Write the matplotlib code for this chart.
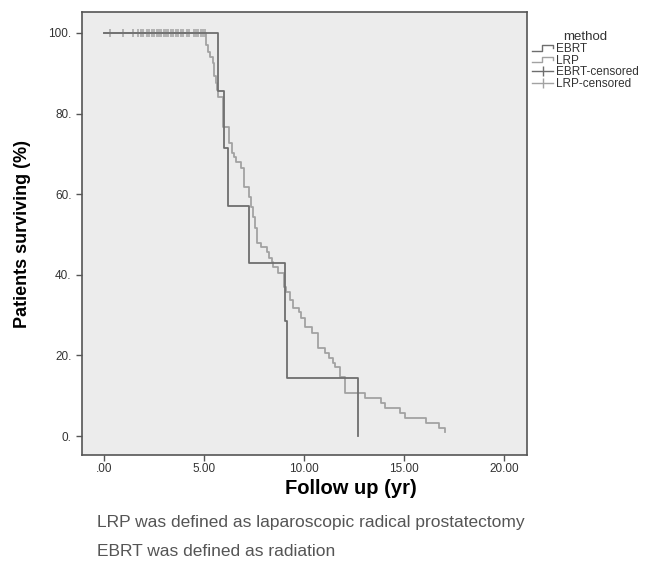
import matplotlib.pyplot as plt
from matplotlib.lines import Line2D
from matplotlib.legend_handler import HandlerBase

# EBRT arm: step times (yr) and survival (%)
ebrt_t = [0, 5.68, 6.00, 6.20, 7.27, 9.05, 9.13, 12.70]
ebrt_s = [100, 85.7, 71.4, 57.1, 42.9, 28.6, 14.3, 0]

# LRP arm: step times (yr) and survival (%)
lrp_t = [0, 5.10, 5.18, 5.30, 5.43, 5.50, 5.58, 5.63, 5.72, 5.95, 6.25,
         6.38, 6.50, 6.60, 6.85, 7.02, 7.25, 7.33, 7.47, 7.55, 7.63, 7.85,
         8.17, 8.27, 8.38, 8.47, 8.72, 9.00, 9.10, 9.30, 9.47, 9.77, 9.83,
         10.05, 10.38, 10.72, 11.05, 11.27, 11.43, 11.55, 11.80, 12.05,
         13.05, 13.83, 14.05, 14.80, 15.05, 16.10, 16.77, 17.05]
lrp_s = [100, 97.0, 95.4, 94.0, 92.6, 89.2, 87.5, 85.9, 84.0, 76.6, 72.8,
         70.3, 69.2, 67.9, 66.6, 61.7, 59.4, 56.9, 54.3, 51.5, 48.0, 46.8,
         45.7, 44.1, 43.3, 42.0, 40.4, 37.0, 35.8, 33.8, 31.7, 30.8, 29.4,
         27.0, 25.5, 21.8, 20.5, 19.3, 18.2, 17.2, 14.7, 10.6,
         9.4, 8.1, 6.9, 5.6, 4.4, 3.2, 1.9, 0.9]

# LRP censored observations (all at 100 %)
lrp_cens = [0.30, 0.97, 1.47, 1.72, 1.83, 1.97, 2.13, 2.27, 2.38, 2.50,
            2.63, 2.75, 2.85, 3.00, 3.10, 3.22, 3.33, 3.47, 3.60, 3.72,
            3.83, 3.97, 4.13, 4.25, 4.50, 4.60, 4.72, 4.83, 4.93, 5.05]

xticks = [0, 5, 10, 15, 20]
xlabels = ['.00', '5.00', '10.00', '15.00', '20.00']
yticks = [0, 20, 40, 60, 80, 100]
ylabels = ['0.', '20.', '40.', '60.', '80.', '100.']

c_ebrt = '#6e6e6e'
c_lrp = '#a2a2a2'

plt.rcParams['font.family'] = ['Liberation Sans', 'DejaVu Sans']

fig = plt.figure(figsize=(6.46, 5.62), dpi=100)
ax = fig.add_axes([82/646, 1-455/562, 445/646, 443/562])
ax.set_facecolor('#ececec')

ax.step(lrp_t, lrp_s, where='post', color=c_lrp, lw=1.3, zorder=2)
ax.plot(lrp_cens, [100]*len(lrp_cens), ls='none', marker='|', ms=5.5,
        mew=1.1, color=c_lrp, zorder=2)
ax.step(ebrt_t, ebrt_s, where='post', color=c_ebrt, lw=1.3, zorder=3)

ax.set_xlim(-1.1, 21.15)
ax.set_ylim(-4.7, 105.2)
ax.set_xticks(xticks)
ax.set_xticklabels(xlabels)
ax.set_yticks(yticks)
ax.set_yticklabels(ylabels)
ax.tick_params(direction='out', length=4, width=1, colors='#555555',
               labelcolor='#333333', labelsize=8.5)
ax.tick_params(axis='x', pad=2)
for sp in ax.spines.values():
    sp.set_color('#555555')
    sp.set_linewidth(1.2)

ax.set_xlabel('Follow up (yr)', fontsize=14.5, fontweight='bold', va='center')
ax.xaxis.set_label_coords((351-82)/445, (455-489)/443)
ax.set_ylabel('Patients surviving (%)', fontsize=13, fontweight='bold',
              va='center')
ax.yaxis.set_label_coords((23-82)/445, 0.5)


class StepHandler(HandlerBase):
    def create_artists(self, legend, orig_handle, xdescent, ydescent,
                       width, height, fontsize, trans):
        x = [-xdescent, -xdescent + 0.45*width, -xdescent + 0.45*width,
             -xdescent + width, -xdescent + width]
        y = [-ydescent + 0.15*height, -ydescent + 0.15*height,
             -ydescent + 0.85*height, -ydescent + 0.85*height,
             -ydescent + 0.5*height]
        ln = Line2D(x, y, color=orig_handle.get_color(), lw=1.0,
                    transform=trans)
        return [ln]


h_ebrt = Line2D([], [], color=c_ebrt)
h_lrp = Line2D([], [], color=c_lrp)
h_ec = Line2D([], [], color=c_ebrt, marker='|', ms=7.5, mew=1.0, lw=1.0)
h_lc = Line2D([], [], color=c_lrp, marker='|', ms=7.5, mew=1.0, lw=1.0)
leg = fig.legend([h_ebrt, h_lrp, h_ec, h_lc],
                 ['EBRT', 'LRP', 'EBRT-censored', 'LRP-censored'],
                 title='method', loc='upper left',
                 bbox_to_anchor=(531/646, 1-30/562), frameon=False,
                 fontsize=8.5, title_fontsize=9.5, handlelength=1.8,
                 handletextpad=0.2, labelspacing=-0.02, borderpad=0.1,
                 borderaxespad=0,
                 handler_map={h_ebrt: StepHandler(), h_lrp: StepHandler()})
leg.get_title().set_color('#333333')
for t in leg.get_texts():
    t.set_color('#333333')

fig.text(97/646, 1-523/562, 'LRP was defined as laparoscopic radical prostatectomy',
         fontsize=12.5, color='#555555', va='center')
fig.text(97/646, 1-551/562, 'EBRT was defined as radiation',
         fontsize=12.5, color='#555555', va='center')

fig.savefig('out.png', dpi=100, facecolor='white')
